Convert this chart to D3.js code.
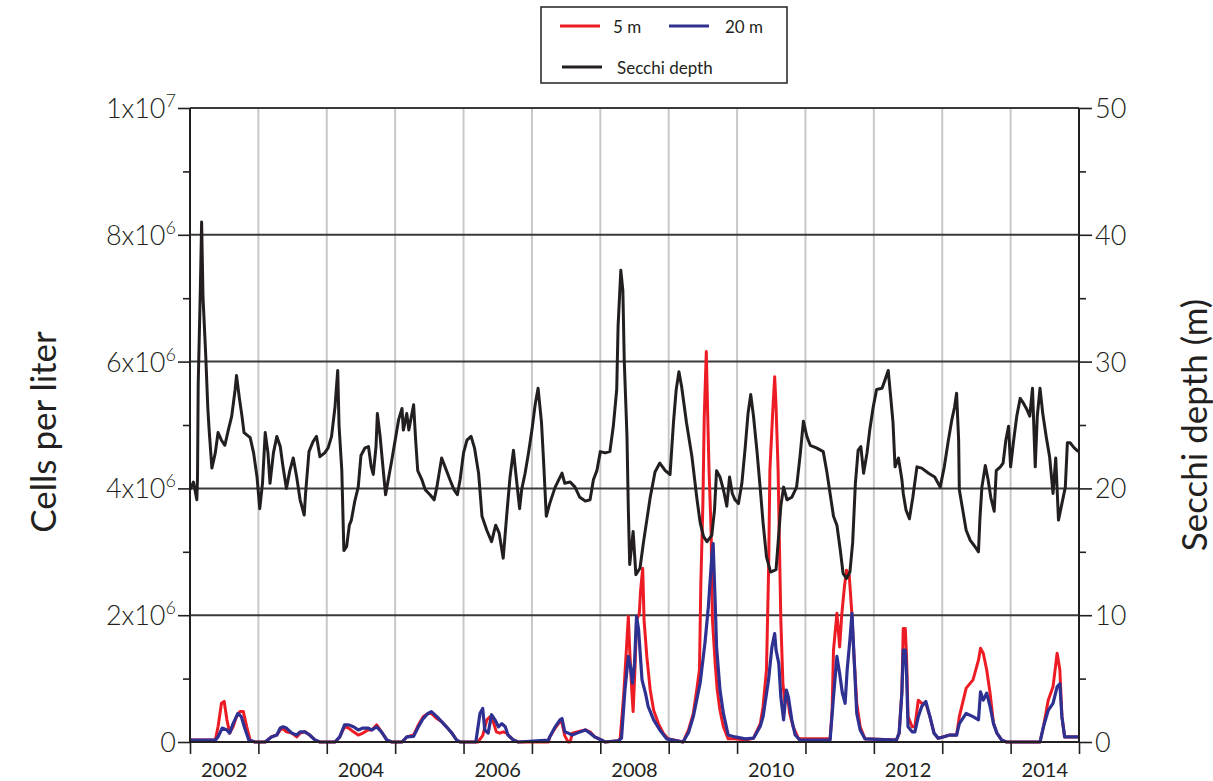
<!DOCTYPE html>
<html><head><meta charset="utf-8">
<script src="https://cdn.jsdelivr.net/npm/d3@7"></script>
<style>
body{margin:0;background:#fff}
svg{display:block}
text{font-family:Lato,'Noto Sans',sans-serif;fill:#231f20}
</style>
</head><body><svg id="c" width="1213" height="781"></svg>
<script>
// ---------- data ----------
const yearTicks = [2002,2003,2004,2005,2006,2007,2008,2009,2010,2011,2012,2013,2014,2015];
const yearLabels = ["2002","2004","2006","2008","2010","2012","2014"];
const cellTicks = [0,2e6,4e6,6e6,8e6,1e7];
const cellTickBase = ["0","2x10","4x10","6x10","8x10","1x10"];
const cellTickExp = ["","6","6","6","6","7"];
const cellMinor = [1e6,3e6,5e6,7e6,9e6];
const secchiTicks = [0,10,20,30,40,50];
const secchiMinor = [5,15,25,35,45];

const secchiT = [2002.00,2002.05,2002.10,2002.11,2002.12,2002.15,2002.17,2002.19,2002.23,2002.26,2002.28,2002.32,2002.37,2002.41,2002.46,2002.51,2002.56,2002.61,2002.66,2002.68,2002.72,2002.76,2002.79,2002.88,2002.93,2002.98,
2003.02,2003.06,2003.10,2003.14,2003.17,2003.22,2003.27,2003.32,2003.36,2003.41,2003.46,2003.51,2003.56,2003.61,2003.67,2003.69,2003.74,2003.80,2003.85,2003.90,2003.97,
2004.02,2004.07,2004.12,2004.16,2004.18,2004.22,2004.25,2004.29,2004.33,2004.36,2004.41,2004.46,2004.50,2004.56,2004.61,2004.65,2004.68,2004.72,2004.74,2004.78,2004.83,2004.86,2004.90,2004.95,
2005.00,2005.05,2005.10,2005.12,2005.17,2005.20,2005.27,2005.30,2005.33,2005.39,2005.44,2005.51,2005.57,2005.61,2005.68,2005.73,2005.80,2005.86,2005.91,2005.95,
2006.00,2006.05,2006.11,2006.16,2006.22,2006.27,2006.34,2006.41,2006.47,2006.52,2006.58,2006.63,2006.68,2006.73,2006.76,2006.82,2006.85,2006.90,2006.95,
2007.00,2007.04,2007.05,2007.09,2007.14,2007.17,2007.21,2007.26,2007.34,2007.44,2007.48,2007.56,2007.63,2007.70,2007.78,2007.85,2007.90,2007.95,
2008.00,2008.07,2008.14,2008.19,2008.24,2008.26,2008.30,2008.33,2008.35,2008.39,2008.41,2008.43,2008.48,2008.52,2008.58,2008.63,2008.68,2008.73,2008.80,2008.87,2008.95,
2009.02,2009.07,2009.11,2009.15,2009.19,2009.26,2009.34,2009.41,2009.46,2009.51,2009.56,2009.63,2009.67,2009.70,2009.75,2009.80,2009.85,2009.89,2009.93,2009.97,
2010.02,2010.07,2010.12,2010.16,2010.20,2010.24,2010.29,2010.34,2010.38,2010.43,2010.49,2010.57,2010.60,2010.64,2010.68,2010.73,2010.80,2010.87,2010.92,2010.97,
2011.02,2011.07,2011.16,2011.26,2011.31,2011.36,2011.41,2011.46,2011.51,2011.55,2011.60,2011.65,2011.69,2011.73,2011.77,2011.81,2011.85,2011.90,2011.94,2011.99,
2012.04,2012.12,2012.16,2012.21,2012.25,2012.28,2012.31,2012.36,2012.41,2012.43,2012.47,2012.52,2012.57,2012.63,2012.70,2012.80,2012.89,2012.97,
2013.03,2013.09,2013.14,2013.18,2013.21,2013.24,2013.25,2013.30,2013.35,2013.41,2013.48,2013.53,2013.55,2013.58,2013.63,2013.67,2013.71,2013.76,2013.79,2013.85,2013.89,2013.93,2013.97,
2014.00,2014.04,2014.09,2014.14,2014.19,2014.24,2014.28,2014.32,2014.36,2014.39,2014.43,2014.47,2014.52,2014.57,2014.62,2014.66,2014.70,2014.75,2014.80,2014.83,2014.87,2014.93,2014.99];
const secchiV = [19.9,20.5,19.1,20.9,28.2,35.4,41.0,35.1,30.5,26.4,24.6,21.6,22.8,24.4,23.8,23.4,24.6,25.7,27.8,28.9,27.2,25.7,24.4,24.0,22.8,20.9,
18.4,20.4,24.4,22.8,20.4,22.8,24.1,23.3,21.7,20.0,21.4,22.4,20.9,19.1,17.9,19.6,22.9,23.7,24.1,22.5,22.8,
23.2,24.1,26.4,29.3,24.9,21.4,15.1,15.4,17.1,17.5,19.0,20.1,22.6,23.2,23.3,21.7,21.1,23.3,25.9,24.1,21.2,19.5,20.7,22.2,
23.8,25.4,26.3,24.6,25.9,24.6,26.6,23.8,21.4,20.7,19.9,19.5,19.1,20.1,22.4,21.7,20.7,19.9,19.5,20.7,
22.8,23.8,24.1,23.2,21.2,17.8,16.7,15.8,17.1,16.5,14.5,17.8,20.9,23.0,21.4,18.4,19.9,21.2,22.8,
24.6,26.3,26.7,27.9,25.2,22.2,17.8,18.8,20.1,21.2,20.4,20.5,20.1,19.3,19.0,19.1,20.7,21.4,
22.9,22.8,22.9,24.9,27.8,32.8,37.2,35.6,30.1,24.1,18.3,14.0,16.6,13.2,13.7,15.7,17.5,19.3,21.3,22.0,21.4,
21.1,25.2,27.8,29.2,28.0,25.2,22.5,19.3,17.3,16.2,15.8,16.3,18.3,21.4,20.9,19.9,18.6,20.9,19.6,19.1,
18.8,20.4,23.3,25.9,27.4,25.7,23.0,19.9,17.3,14.6,13.4,13.6,15.7,18.6,20.1,19.1,19.3,20.1,22.5,25.3,
24.1,23.4,23.2,22.9,21.4,19.6,17.8,17.1,15.1,13.3,12.9,13.4,15.7,20.4,23.0,23.3,21.2,22.8,24.6,26.4,
27.8,27.9,28.5,29.3,27.0,25.2,21.7,22.4,20.7,19.6,18.3,17.6,19.3,21.7,21.6,21.2,20.9,20.1,
21.7,23.8,25.4,26.4,27.5,23.8,19.9,18.3,16.7,15.9,15.4,15.0,17.5,20.1,21.8,20.7,19.3,18.2,21.4,21.7,22.0,23.8,24.9,
21.7,23.6,25.7,27.1,26.7,26.2,25.7,27.9,21.7,25.7,27.9,25.9,24.1,22.5,19.6,22.4,17.5,18.8,20.1,23.6,23.6,23.2,22.9];

const cells5T = [2002.00,2002.37,2002.41,2002.46,2002.50,2002.54,2002.58,2002.63,2002.68,2002.73,2002.78,2002.83,2002.88,2002.95,
2003.10,2003.19,2003.27,2003.32,2003.36,2003.41,2003.49,2003.56,2003.61,2003.68,2003.75,2003.83,2003.90,
2004.12,2004.19,2004.26,2004.32,2004.39,2004.46,2004.53,2004.60,2004.66,2004.73,2004.80,2004.88,2004.95,
2005.10,2005.17,2005.27,2005.34,2005.41,2005.48,2005.53,2005.61,2005.68,2005.75,2005.83,2005.90,2005.95,
2006.21,2006.28,2006.34,2006.39,2006.44,2006.48,2006.53,2006.58,2006.63,2006.68,2006.73,2006.80,
2007.24,2007.26,2007.34,2007.41,2007.44,2007.48,2007.53,2007.56,2007.59,2007.66,2007.78,2007.85,2007.92,2008.02,2008.07,
2008.26,2008.29,2008.34,2008.39,2008.41,2008.43,2008.46,2008.48,2008.51,2008.53,2008.57,2008.59,2008.62,2008.64,2008.68,2008.73,2008.78,2008.85,2008.92,2008.99,
2009.21,2009.29,2009.36,2009.41,2009.45,2009.47,2009.50,2009.52,2009.55,2009.57,2009.59,2009.62,2009.64,2009.68,2009.71,2009.75,2009.80,2009.87,2009.97,
2010.12,2010.24,2010.34,2010.38,2010.43,2010.46,2010.48,2010.52,2010.55,2010.57,2010.60,2010.62,2010.64,2010.67,2010.70,2010.73,2010.77,2010.82,2010.90,
2011.36,2011.39,2011.41,2011.46,2011.50,2011.53,2011.57,2011.60,2011.64,2011.68,2011.71,2011.75,2011.80,2011.87,
2012.33,2012.37,2012.41,2012.43,2012.46,2012.48,2012.50,2012.56,2012.60,2012.65,2012.70,2012.76,2012.82,2012.88,2012.94,
2013.01,2013.11,2013.21,2013.25,2013.35,2013.45,2013.53,2013.56,2013.60,2013.65,2013.70,2013.75,2013.80,2013.87,2013.94,
2014.43,2014.48,2014.55,2014.62,2014.68,2014.72,2014.75,2014.79,2015.00];
const cells5V = [0.03,0.03,0.24,0.61,0.64,0.35,0.14,0.24,0.40,0.48,0.48,0.24,0.03,0,
0,0.08,0.11,0.19,0.21,0.16,0.14,0.08,0.14,0.16,0.11,0.03,0,
0,0.08,0.24,0.22,0.16,0.11,0.14,0.19,0.19,0.27,0.16,0.03,0,
0,0.08,0.11,0.27,0.40,0.45,0.45,0.37,0.32,0.24,0.14,0.03,0,
0,0.10,0.35,0.40,0.30,0.16,0.14,0.16,0.14,0.08,0.03,0,
0,0.08,0.22,0.32,0.30,0.10,0,0,0.14,0.16,0.19,0.16,0.08,0.03,0,
0.02,0.05,0.71,1.61,1.98,1.45,0.82,0.48,1.24,1.92,2.03,2.40,2.74,1.92,1.35,0.82,0.50,0.29,0.14,0.05,
0,0.19,0.45,0.82,1.14,2.50,3.76,5.13,6.16,5.18,4.29,3.34,1.92,1.24,0.82,0.50,0.24,0.05,0.05,
0.03,0.06,0.29,0.56,1.14,2.66,4.29,5.18,5.76,5.29,4.29,3.08,1.92,0.93,0.61,0.77,0.45,0.24,0.05,
0.05,0.50,1.45,2.03,1.50,2.00,2.45,2.71,2.63,2.00,1.35,0.61,0.24,0.05,
0.03,0.14,0.80,1.79,1.79,1.29,0.40,0.24,0.24,0.66,0.61,0.61,0.40,0.14,0.06,
0.08,0.11,0.11,0.40,0.85,0.98,1.29,1.48,1.40,1.14,0.77,0.29,0.14,0.03,0,
0,0.24,0.66,0.87,1.40,1.14,0.40,0.08,0.08];

const cells20T = [2002.00,2002.37,2002.41,2002.47,2002.54,2002.58,2002.63,2002.70,2002.75,2002.80,2002.86,2002.95,
2003.10,2003.19,2003.27,2003.32,2003.36,2003.41,2003.49,2003.56,2003.61,2003.68,2003.75,2003.83,2003.90,
2004.12,2004.19,2004.26,2004.32,2004.39,2004.46,2004.53,2004.60,2004.66,2004.73,2004.80,2004.88,2004.95,
2005.10,2005.17,2005.27,2005.34,2005.41,2005.48,2005.53,2005.61,2005.68,2005.75,2005.83,2005.90,2005.95,
2006.18,2006.24,2006.28,2006.31,2006.36,2006.41,2006.46,2006.51,2006.56,2006.61,2006.65,2006.73,2006.80,
2007.24,2007.26,2007.34,2007.41,2007.44,2007.48,2007.53,2007.59,2007.66,2007.78,2007.85,2007.92,2008.02,2008.07,
2008.26,2008.31,2008.36,2008.41,2008.44,2008.47,2008.50,2008.53,2008.56,2008.58,2008.61,2008.66,2008.70,2008.78,2008.87,2008.97,
2009.21,2009.29,2009.36,2009.46,2009.53,2009.58,2009.63,2009.65,2009.68,2009.70,2009.75,2009.80,2009.87,2009.97,
2010.12,2010.24,2010.34,2010.38,2010.46,2010.51,2010.55,2010.57,2010.61,2010.64,2010.68,2010.72,2010.75,2010.80,2010.85,2010.92,
2011.36,2011.41,2011.46,2011.50,2011.54,2011.58,2011.61,2011.65,2011.68,2011.71,2011.75,2011.80,2011.87,
2012.33,2012.37,2012.41,2012.43,2012.46,2012.48,2012.50,2012.56,2012.60,2012.65,2012.70,2012.76,2012.82,2012.88,2012.94,
2013.01,2013.11,2013.21,2013.25,2013.35,2013.45,2013.53,2013.56,2013.60,2013.65,2013.70,2013.75,2013.80,2013.87,2013.94,
2014.43,2014.48,2014.55,2014.62,2014.68,2014.72,2014.75,2014.79,2015.00];
const cells20V = [0.03,0.03,0.08,0.22,0.19,0.14,0.29,0.45,0.40,0.22,0.03,0,
0,0.08,0.11,0.22,0.24,0.22,0.14,0.11,0.16,0.16,0.11,0.03,0,
0,0.08,0.27,0.27,0.24,0.19,0.22,0.22,0.19,0.24,0.16,0.03,0,
0,0.08,0.09,0.24,0.37,0.45,0.48,0.40,0.32,0.24,0.14,0.03,0,
0,0.45,0.53,0.19,0.14,0.43,0.35,0.24,0.29,0.24,0.11,0.03,0,
0.03,0.08,0.24,0.35,0.37,0.16,0.14,0.11,0.14,0.19,0.14,0.08,0.03,0,
0.02,0.06,0.82,1.35,1.19,0.93,1.24,1.98,1.77,1.45,0.98,0.77,0.56,0.35,0.19,0.05,
0,0.15,0.40,0.93,1.56,2.13,2.92,3.13,2.19,1.50,0.82,0.45,0.11,0.08,
0.05,0.06,0.25,0.40,0.98,1.50,1.71,1.45,1.24,0.71,0.35,0.82,0.71,0.35,0.11,0.03,
0.03,0.71,1.35,1.08,0.77,0.61,1.14,1.61,2.03,1.35,0.45,0.19,0.05,
0.03,0.14,0.77,1.45,1.45,1.03,0.24,0.16,0.16,0.40,0.56,0.64,0.40,0.14,0.06,
0.08,0.11,0.11,0.29,0.45,0.40,0.35,0.79,0.66,0.77,0.56,0.29,0.14,0.03,0,
0,0.24,0.50,0.61,0.87,0.92,0.40,0.08,0.08];

const legendItems = [
  {label:"5 m", color:"#ed1c24"},
  {label:"20 m", color:"#2e3192"},
  {label:"Secchi depth", color:"#231f20"}
];

// ---------- chart ----------
const svg = d3.select("#c");
const L = 190, R = 1079, T = 108, B = 742;
const x = d3.scaleLinear().domain([2002, 2015]).range([L, R]);
const yC = d3.scaleLinear().domain([0, 1e7]).range([B, T]);
const yS = d3.scaleLinear().domain([0, 50]).range([B, T]);

// vertical grid
svg.append("g").selectAll("line").data(yearTicks.slice(1, -1)).join("line")
  .attr("x1", d => x(d)).attr("x2", d => x(d)).attr("y1", T).attr("y2", B)
  .attr("stroke", "#c8c8c8").attr("stroke-width", 2);
// horizontal grid
svg.append("g").selectAll("line").data(cellTicks.slice(1)).join("line")
  .attr("x1", L).attr("x2", R).attr("y1", d => yC(d)).attr("y2", d => yC(d))
  .attr("stroke", "#3a3a3a").attr("stroke-width", 2);

// series
const lineOf = (T_, V_, scale, mult) => d3.line()
  .x((d, i) => x(T_[i])).y((d, i) => scale(V_[i] * mult))(V_);

svg.append("path").attr("d", lineOf(cells5T, cells5V, yC, 1e6))
  .attr("fill", "none").attr("stroke", legendItems[0].color).attr("stroke-width", 3).attr("stroke-linejoin", "round");
svg.append("path").attr("d", lineOf(cells20T, cells20V, yC, 1e6))
  .attr("fill", "none").attr("stroke", legendItems[1].color).attr("stroke-width", 3.2).attr("stroke-linejoin", "round");
svg.append("path").attr("d", lineOf(secchiT, secchiV, yS, 1))
  .attr("fill", "none").attr("stroke", legendItems[2].color).attr("stroke-width", 3).attr("stroke-linejoin", "round");

// axes
const axisStyle = g => {
  g.selectAll("line").attr("stroke", "#231f20").attr("stroke-width", 1.6);
  g.select(".domain").remove();
};
svg.append("g").attr("transform", `translate(${L},0)`)
  .call(d3.axisLeft(yC).tickValues(cellTicks).tickSize(12).tickFormat(""))
  .call(axisStyle);
svg.append("g").attr("transform", `translate(${L},0)`)
  .call(d3.axisLeft(yC).tickValues(cellMinor).tickSize(7).tickFormat(""))
  .call(axisStyle);
const leftLab = svg.append("g").selectAll("text").data(cellTicks).join("text")
  .attr("x", 176).attr("y", d => yC(d) + 10)
  .attr("text-anchor", "end").style("font-size", "27px").style("font-weight", 300);
leftLab.each(function(d, i) {
  const t = d3.select(this);
  t.append("tspan").text(cellTickBase[i]);
  if (cellTickExp[i]) t.append("tspan").attr("dy", -11).style("font-size", "18px").text(cellTickExp[i]);
});

svg.append("g").attr("transform", `translate(${R},0)`)
  .call(d3.axisRight(yS).tickValues(secchiTicks).tickSize(13).tickFormat(""))
  .call(axisStyle);
svg.append("g").attr("transform", `translate(${R},0)`)
  .call(d3.axisRight(yS).tickValues(secchiMinor).tickSize(7).tickFormat(""))
  .call(axisStyle);
svg.append("g").selectAll("text").data(secchiTicks).join("text")
  .attr("x", 1095).attr("y", d => yS(d) + 10)
  .style("font-size", "27px").style("font-weight", 300).text(d => d);

svg.append("g").attr("transform", `translate(0,${B})`)
  .call(d3.axisBottom(x).tickValues(yearTicks).tickSize(12).tickFormat(""))
  .call(axisStyle);
svg.append("g").selectAll("text").data(yearLabels).join("text")
  .attr("x", d => x(+d + 0.5)).attr("y", 777)
  .attr("text-anchor", "middle").style("font-size", "20px").text(d => d);

svg.append("line").attr("x1", L).attr("x2", L).attr("y1", T).attr("y2", B).attr("stroke", "#231f20").attr("stroke-width", 2);
svg.append("line").attr("x1", R).attr("x2", R).attr("y1", T).attr("y2", B).attr("stroke", "#231f20").attr("stroke-width", 2);
svg.append("line").attr("x1", L).attr("x2", R).attr("y1", B).attr("y2", B).attr("stroke", "#231f20").attr("stroke-width", 2);

// axis titles
svg.append("text").attr("transform", "translate(56,432) rotate(-90)")
  .attr("text-anchor", "middle").style("font-size", "35px").text("Cells per liter");
svg.append("text").attr("transform", "translate(1207,425) rotate(-90)")
  .attr("text-anchor", "middle").style("font-size", "35px").text("Secchi depth  (m)");

// legend
const lg = svg.append("g");
lg.append("rect").attr("x", 541).attr("y", 7).attr("width", 246).attr("height", 76)
  .attr("fill", "#fff").attr("stroke", "#231f20").attr("stroke-width", 1.5);
const lpos = [{x:560, y:26, tx:613}, {x:669, y:26, tx:725}, {x:562, y:67, tx:617}];
legendItems.forEach((d, i) => {
  const p = lpos[i];
  lg.append("line").attr("x1", p.x).attr("x2", p.x + 40).attr("y1", p.y).attr("y2", p.y)
    .attr("stroke", d.color).attr("stroke-width", 3);
  lg.append("text").attr("x", p.tx).attr("y", p.y + 7).style("font-size", "17px").text(d.label);
});
</script>
</body></html>
